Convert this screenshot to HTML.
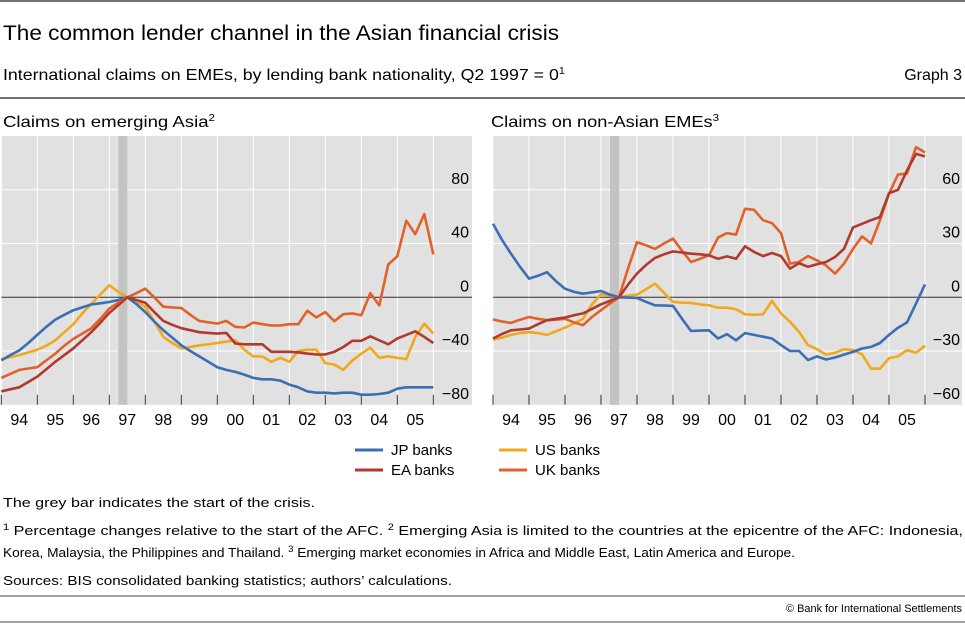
<!DOCTYPE html>
<html><head><meta charset="utf-8"><style>
body{margin:0;width:965px;height:625px;background:#fff;font-family:"Liberation Sans",sans-serif;overflow:hidden}
svg text{font-family:"Liberation Sans",sans-serif;fill:#000}
</style></head><body>
<svg id="c" width="965" height="625">
<line x1="0" y1="1" x2="965" y2="1" stroke="#444" stroke-width="1.5"/>
<text x="3" y="40" font-size="21" textLength="556" lengthAdjust="spacingAndGlyphs">The common lender channel in the Asian financial crisis</text>
<text x="3" y="80" font-size="16" textLength="562" lengthAdjust="spacingAndGlyphs">International claims on EMEs, by lending bank nationality, Q2 1997 = 0<tspan font-size="10" dy="-6">1</tspan></text>
<text x="962" y="80" font-size="16" text-anchor="end">Graph 3</text>
<line x1="0" y1="98" x2="965" y2="98" stroke="#444" stroke-width="1.5"/>
<text x="3" y="127" font-size="16" textLength="212" lengthAdjust="spacingAndGlyphs">Claims on emerging Asia<tspan font-size="10" dy="-6">2</tspan></text>
<text x="491" y="127" font-size="16" textLength="228" lengthAdjust="spacingAndGlyphs">Claims on non-Asian EMEs<tspan font-size="10" dy="-6">3</tspan></text>
<g id="lp"></g><g id="rp"></g>
<g>
<line x1="355" y1="450" x2="383" y2="450" stroke="#3a6eb5" stroke-width="3"/><text x="391" y="455" font-size="15">JP banks</text>
<line x1="355" y1="470" x2="383" y2="470" stroke="#b03a2e" stroke-width="3"/><text x="391" y="475" font-size="15">EA banks</text>
<line x1="499" y1="450" x2="527" y2="450" stroke="#f2a81d" stroke-width="3"/><text x="535" y="455" font-size="15">US banks</text>
<line x1="499" y1="470" x2="527" y2="470" stroke="#e0622a" stroke-width="3"/><text x="535" y="475" font-size="15">UK banks</text>
</g>
<text x="3" y="507" font-size="13" textLength="312" lengthAdjust="spacingAndGlyphs">The grey bar indicates the start of the crisis.</text>
<text x="3" y="535" font-size="13" textLength="960" lengthAdjust="spacingAndGlyphs"><tspan font-size="9" dy="-5">1</tspan><tspan dy="5">  Percentage changes relative to the start of the AFC.    </tspan><tspan font-size="9" dy="-5">2</tspan><tspan dy="5">  Emerging Asia is limited to the countries at the epicentre of the AFC: Indonesia,</tspan></text>
<text x="3" y="557" font-size="13" textLength="792" lengthAdjust="spacingAndGlyphs">Korea, Malaysia, the Philippines and Thailand.    <tspan font-size="9" dy="-5">3</tspan><tspan dy="5">  Emerging market economies in Africa and Middle East, Latin America and Europe.</tspan></text>
<text x="3" y="585" font-size="13" textLength="449" lengthAdjust="spacingAndGlyphs">Sources: BIS consolidated banking statistics; authors’ calculations.</text>
<line x1="0" y1="596" x2="965" y2="596" stroke="#444" stroke-width="1"/>
<text x="962" y="612" font-size="11" textLength="176" lengthAdjust="spacingAndGlyphs" text-anchor="end">© Bank for International Settlements</text>
<line x1="0" y1="622" x2="965" y2="622" stroke="#444" stroke-width="1"/>
</svg>
<script>
const years=["94","95","96","97","98","99","00","01","02","03","04","05"];
const leftTicks=[-80,-40,0,40,80];
const rightTicks=[-60,-30,0,30,60];
const jpLeft=[-47,-43,-39.5,-34,-28,-22,-16.6,-13,-9.7,-7.5,-5.4,-4.5,-3.5,-2,0,-5,-11,-18,-24.5,-30,-35.7,-40,-44,-48,-52,-54,-55.5,-57.5,-60,-61,-61,-62,-65,-67,-70,-71,-71,-71.5,-71,-71,-72.5,-72.5,-72,-71,-68,-67,-67,-67,-67];
const usLeft=[-46,-44.5,-43,-41,-39,-36,-32,-26,-20,-12,-5,2,9,4,0,-3,-7,-18,-29.5,-34,-38,-37,-35.7,-35,-34,-33,-32,-39,-44,-44,-48,-45,-48,-40,-39,-39,-49,-50,-54,-47,-42,-37.6,-45,-44,-45,-46,-29.5,-19.6,-27];
const ukLeft=[-60,-57,-54,-53,-52,-47,-42,-36,-31,-27,-23,-16,-8.4,-4,0,3,6.4,0,-7,-7.5,-8,-13,-17.6,-18.6,-19.6,-17.6,-22,-22.5,-18.8,-20,-21,-21,-20,-20,-10,-15,-11,-17.8,-12.6,-12,-13.4,3,-6,24.5,30.5,57,47,62,32];
const eaLeft=[-70,-68.5,-67,-63,-59,-53.5,-48,-43,-38,-32,-26,-19,-11.6,-6,0,-2,-4,-11,-17.6,-20.5,-23,-24.5,-26,-26.5,-27,-26.5,-34.4,-35,-35,-35,-40.6,-40.6,-40.6,-41,-41.9,-42.6,-42.6,-40.6,-37,-32.4,-32.4,-29,-32,-35,-30.7,-28,-25.3,-29.5,-34];
const jpRight=[41,32,24.3,17,10.4,12,14,9,4.8,3,2,2.7,3.5,1.5,0,-0.2,-0.4,-2.5,-4.5,-4.6,-4.8,-12,-18.8,-18.6,-18.4,-23,-20.6,-24,-20,-21,-22,-23,-26.7,-30,-30,-35,-33,-34.7,-33.6,-32,-30.5,-28.6,-27.7,-25.5,-21,-17,-14,-3.5,7.2];
const usRight=[-23.6,-22.5,-21,-20,-19.5,-20,-21,-19,-17,-14.5,-12,-4,1.7,1,0,0.8,1.5,4.5,7.6,2.5,-2.6,-3,-3.2,-4,-4.5,-5.8,-5.8,-6.7,-9.5,-9.7,-9.5,-2,-9,-13.7,-19.3,-26.7,-29,-32,-31,-29,-29.5,-31.8,-39.8,-39.8,-34,-33,-29.5,-31,-27];
const ukRight=[-12.4,-13.5,-14.3,-12.5,-11,-12,-12.8,-12.5,-12,-14,-15.6,-11,-7.2,-3.5,0,16,30.8,29,27,30,32.7,26,19.7,21.5,23.4,33.3,35.8,35,49.4,48.8,43,41.4,35.8,18.8,19.7,23,20.6,17.8,13.2,18.8,27,34,30,43,57.8,68.5,69,83.8,80.8];
const eaRight=[-23,-20.5,-18.4,-18,-17.5,-15,-12.8,-12,-11.3,-10,-9,-6.5,-3.9,-2,0,7,13.2,18,22,24,25.6,25,24.3,24,23.4,21.5,22.8,21.5,28.4,25.3,23,24.7,23,16,19,17,18.4,19.7,22.5,27,39,41,43,44.8,58,60,70.8,80,78.6];

const NS="http://www.w3.org/2000/svg";
function mk(parent,tag,attrs){const e=document.createElementNS(NS,tag);for(const k in attrs)e.setAttribute(k,attrs[k]);parent.appendChild(e);return e;}
function panel(gid,x0,x1,y0,y1,ymin,ymax,ticks,series,labelX,pname){
  const g=document.getElementById(gid);
  const yS=v=>y1-(v-ymin)/(ymax-ymin)*(y1-y0);
  const xS=t=>x0+t*36;
  const bg=mk(g,'rect',{x:x0,y:y0,width:x1-x0,height:y1-y0,fill:'#e1e1e1'});
  
  
  for(let k=0;k<=years.length;k++){mk(g,'line',{x1:xS(k),x2:xS(k),y1:y0,y2:y1,stroke:'#fff','stroke-width':1});}
  ticks.forEach(v=>{
    if(v!==0&&v!==ymin)mk(g,'line',{x1:x0,x2:x1,y1:yS(v),y2:yS(v),stroke:'#fff','stroke-width':1});
    const t=mk(g,'text',{x:labelX,y:yS(v)-6,'font-size':16,'text-anchor':'end'});
    t.textContent=v<0?'\u2212'+(-v):String(v);
    
    
  });
  const gb=mk(g,'rect',{x:xS(3.25),y:y0,width:9,height:y1-y0,fill:'#c3c3c3'});
  
  
  mk(g,'line',{x1:x0,x2:x1,y1:yS(0),y2:yS(0),stroke:'#333','stroke-width':1});
  years.forEach((yr,k)=>{
    mk(g,'line',{x1:xS(k),x2:xS(k),y1:y1-10,y2:y1,stroke:'#333','stroke-width':1});
    const t=mk(g,'text',{x:xS(k+0.5),y:y1+20,'font-size':16,'text-anchor':'middle'});
    t.textContent=yr;
    
    
  });
  mk(g,'line',{x1:xS(12),x2:xS(12),y1:y1-10,y2:y1,stroke:'#333','stroke-width':1});
  series.forEach(([vals,col,nm])=>{
    const d=vals.map((v,i)=>(i?'L':'M')+xS(i/4).toFixed(1)+' '+yS(v).toFixed(1)).join(' ');
    const p=mk(g,'path',{d:d,fill:'none',stroke:col,'stroke-width':2.6,'stroke-linejoin':'round'});
    
    
  });
}
panel('lp',1.3,472,136,404.8,-80,120,leftTicks,[[usLeft,'#f2a81d','us'],[jpLeft,'#3a6eb5','jp'],[ukLeft,'#e0622a','uk'],[eaLeft,'#b03a2e','ea']],469,'left');
panel('rp',493,962,136,404.8,-60,90,rightTicks,[[usRight,'#f2a81d','us'],[jpRight,'#3a6eb5','jp'],[ukRight,'#e0622a','uk'],[eaRight,'#b03a2e','ea']],960,'right');
</script>
</body></html>
